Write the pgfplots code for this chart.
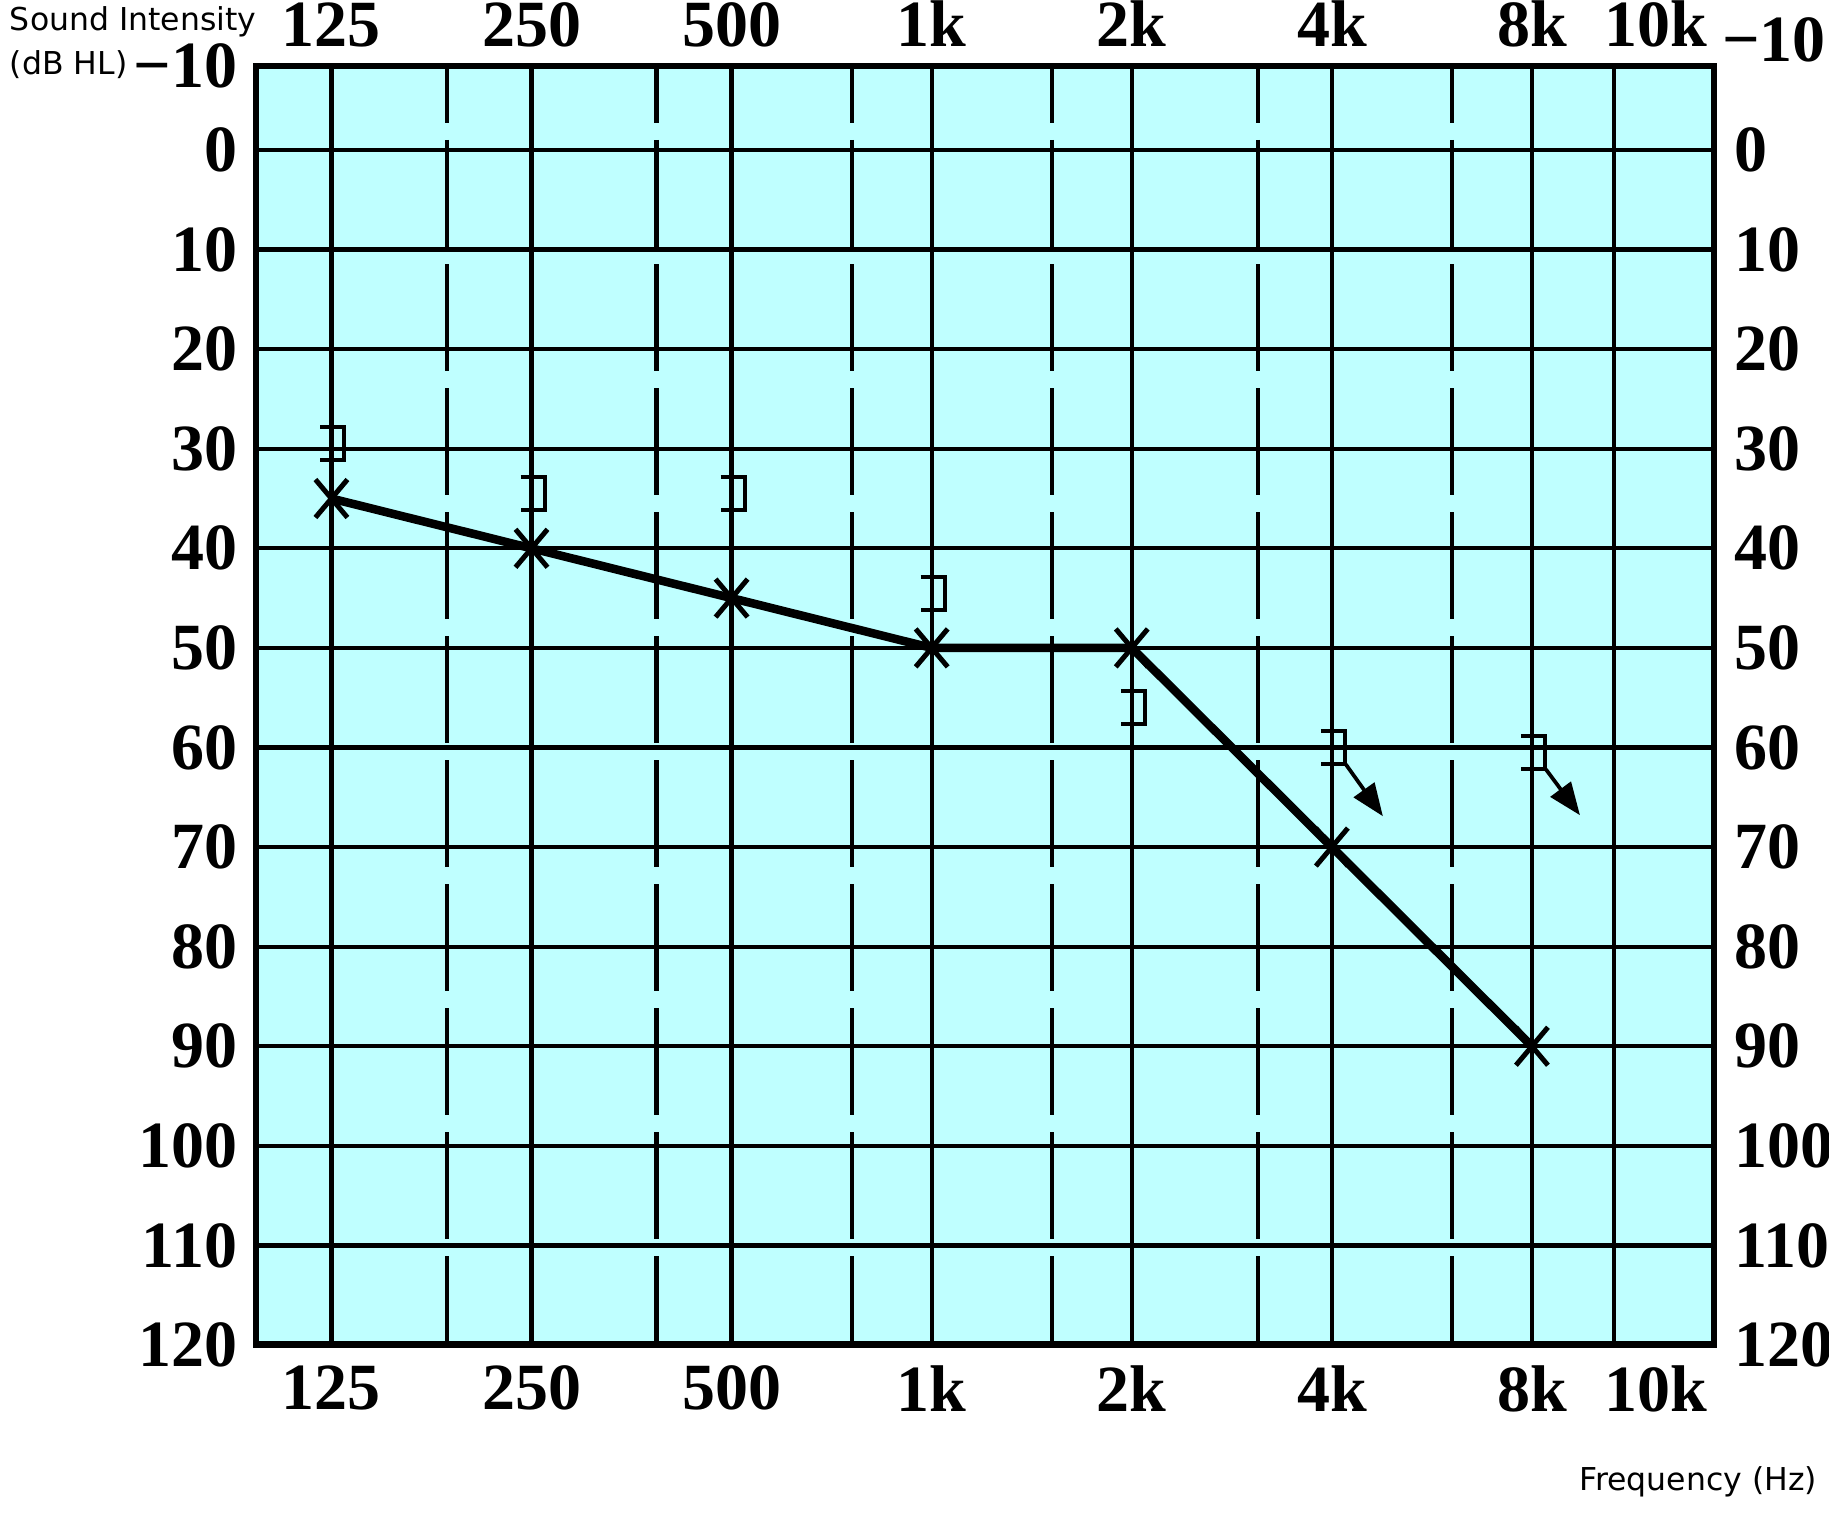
\documentclass[border=0pt]{standalone}
\usepackage{fontspec}
\setmainfont{Liberation Serif}
\newfontfamily\labelfont{DejaVu Sans}
\usepackage{pgfplots}
\pgfplotsset{compat=1.18}
\usetikzlibrary{arrows.meta}

\definecolor{chartbg}{RGB}{191,255,255}

% air conduction X (a bit taller than wide)
\pgfdeclareplotmark{crossx}{%
  \pgfpathmoveto{\pgfpoint{-3.2pt}{-3.8pt}}\pgfpathlineto{\pgfpoint{3.2pt}{3.8pt}}%
  \pgfpathmoveto{\pgfpoint{-3.2pt}{3.8pt}}\pgfpathlineto{\pgfpoint{3.2pt}{-3.8pt}}%
  \pgfusepathqstroke}
% masked bone conduction ]
\pgfdeclareplotmark{bracketR}{%
  \pgfpathmoveto{\pgfpoint{-2.2pt}{3.3pt}}\pgfpathlineto{\pgfpoint{2.6pt}{3.3pt}}%
  \pgfpathlineto{\pgfpoint{2.6pt}{-3.3pt}}\pgfpathlineto{\pgfpoint{-2.2pt}{-3.3pt}}%
  \pgfusepathqstroke}

\pgfplotsset{
  audiogram/.style={
    scale only axis,
    width=291.6pt, height=255.8pt,
    xmin=-0.377, xmax=6.91,
    ymin=-8.43, ymax=120,
    y dir=reverse,
    xtick={0,1,2,3,4,5,6,6.41},
    xticklabels={125,250,500,1k,2k,4k,8k,\hspace*{16.8pt}10k},
    ytick={0,10,20,30,40,50,60,70,80,90,100,110,120},
    yticklabels={0,10,20,30,40,50,60,70,80,90,100,110,120},
    extra y ticks={-8.43},
    extra y tick labels={−10},
    major tick length=0pt,
    tick label style={font=\fontsize{13.2}{15}\selectfont\bfseries},
  }
}

\begin{document}
\begin{tikzpicture}
\path[use as bounding box] (-51.2pt,-36pt) rectangle (314.6pt,269pt);

\begin{axis}[
    audiogram,
    axis background/.style={fill=chartbg},
    xmajorgrids, ymajorgrids,
    grid style={black, line width=0.85pt},
    axis line style={line width=1.3pt},
    xticklabel style={anchor=north, inner sep=0pt, yshift=-4pt},
    yticklabel style={anchor=east, inner sep=0pt, xshift=-3.6pt},
    extra y tick style={grid=none},
]
% dashed half-octave lines
\pgfplotsinvokeforeach{0.579,1.625,2.6,3.6,4.63,5.6}{
  \draw[black, line width=0.85pt, dash pattern=on 21.4pt off 3.4pt, dash phase=10pt]
    (axis cs:#1,-8.43) -- (axis cs:#1,120);
}
\draw[black, line width=1.8pt] (axis cs:-0.377,120) -- (axis cs:6.91,120);

% air conduction
\addplot[black, line width=1.7pt, mark=crossx, mark options={line width=1pt}]
  coordinates {(0,35) (1,40) (2,45) (3,50) (4,50) (5,70) (6,90)};

% masked bone conduction
\addplot[only marks, black, mark=bracketR, mark options={line width=0.8pt}]
  coordinates {(0,29.5) (1,34.5) (2,34.5) (3,44.5) (4,56) (5,60) (6,60.5)};

% no-response arrows
\addplot[black, line width=0.75pt, -{Triangle[length=6.5pt, width=5pt]}]
  coordinates {(5.07,61.7) (5.255,66.9)};
\addplot[black, line width=0.75pt, -{Triangle[length=6.5pt, width=5pt]}]
  coordinates {(6.07,62.2) (6.24,66.8)};
\end{axis}

\begin{axis}[
    audiogram,
    axis line style={draw=none},
    xticklabel pos=upper,
    yticklabel pos=right,
    xticklabel style={anchor=south, inner sep=0pt, yshift=3.6pt},
    yticklabel style={anchor=west, inner sep=0pt, xshift=3.8pt},
    extra y tick style={yticklabel style={yshift=5.2pt, xshift=-2.4pt}},
]
\addplot[draw=none] coordinates {(0,0)};
\end{axis}

\node[anchor=base west, inner sep=0pt, font=\labelfont\fontsize{6.3}{7}\selectfont] at (-49.4pt,262.8pt) {Sound Intensity};
\node[anchor=base west, inner sep=0pt, font=\labelfont\fontsize{6.3}{7}\selectfont] at (-49.4pt,254pt) {(dB HL)};
\node[anchor=base east, inner sep=0pt, font=\labelfont\fontsize{6.3}{7}\selectfont] at (312.4pt,-29pt) {Frequency (Hz)};
\end{tikzpicture}
\end{document}
